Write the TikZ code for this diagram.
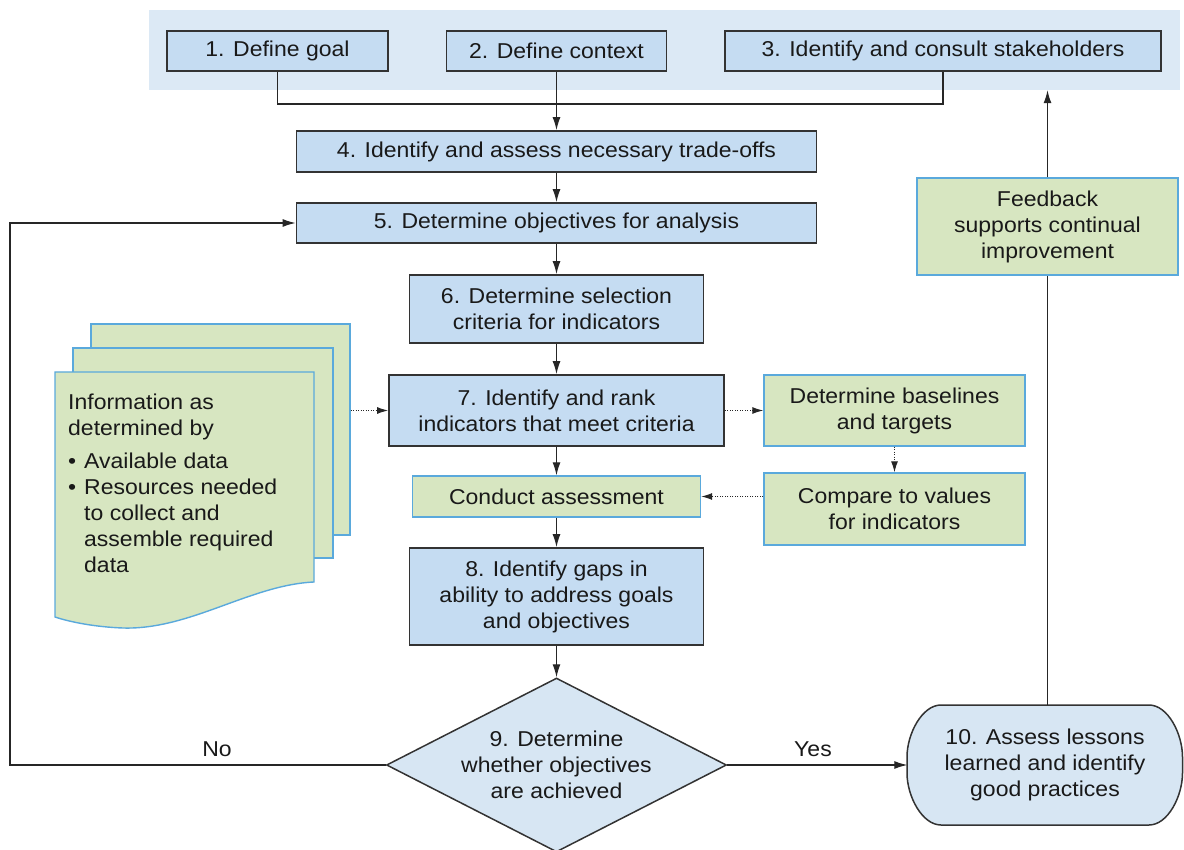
\documentclass[tikz,border=0pt]{standalone}
\usepackage{fontspec}
\setmainfont{Liberation Sans}[FakeStretch=1.07]
\usetikzlibrary{arrows.meta,shapes.geometric,backgrounds}
\definecolor{bluefill}{HTML}{C5DCF2}
\definecolor{greenfill}{HTML}{D7E6C1}
\definecolor{bandfill}{HTML}{DCE9F5}
\definecolor{lightblue}{HTML}{D7E6F3}
\definecolor{greenedge}{HTML}{5AA9DC}
\definecolor{boxedge}{HTML}{333333}
\begin{document}
\begin{tikzpicture}[x=1pt,y=-1pt,
  every node/.style={font=\fontsize{21.5}{26}\selectfont, inner sep=0pt, align=center, text=black!90},
  bluebox/.style={draw=boxedge, line width=1.8pt, fill=bluefill},
  greenbox/.style={draw=greenedge, line width=1.4pt, fill=greenfill},
  sheet/.style={draw=greenedge, line width=1.4pt, fill=greenfill},
  conn/.style={line width=1.2pt, draw=black!85},
  arr/.style={conn, -{Latex[length=13pt,width=8pt]}},
  dotarr/.style={conn, line width=1pt, dash pattern=on 1pt off 1.5pt, -{Latex[length=11pt,width=7pt]}}]
\useasboundingbox (0,0) rectangle (1184,850);
\clip (0,0) rectangle (1184,850);

% top band
\node[fill=bandfill, minimum width=1031pt, minimum height=80pt] (band) at (664.5,50) {};
\node[bluebox, minimum width=221pt, minimum height=40pt] (b1) at (277.5,51) {1. Define goal};
\node[bluebox, minimum width=220pt, minimum height=40pt] (b2) at (556.5,51) {2. Define context};
\node[bluebox, minimum width=436pt, minimum height=40pt] (b3) at (943,51) {3. Identify and consult stakeholders};

% main column
\node[bluebox, minimum width=520pt, minimum height=41pt] (b4) at (556.5,151.5) {4. Identify and assess necessary trade-offs};
\node[bluebox, minimum width=520pt, minimum height=40pt] (b5) at (556.5,223) {5. Determine objectives for analysis};
\node[bluebox, minimum width=294pt, minimum height=68pt] (b6) at (556.5,309) {6. Determine selection\\criteria for indicators};
\node[bluebox, minimum width=335pt, minimum height=71pt] (b7) at (556.5,410.5) {7. Identify and rank\\indicators that meet criteria};
\node[greenbox, minimum width=288pt, minimum height=41pt] (ca) at (556.5,496.5) {Conduct assessment};
\node[bluebox, minimum width=294pt, minimum height=97pt] (b8) at (556.5,596.5) {8. Identify gaps in\\ability to address goals\\and objectives};
\node[diamond, draw=boxedge, line width=1.5pt, fill=lightblue, minimum width=340pt, minimum height=174pt] (d9) at (556.5,765) {};
\node (d9t) at (556.5,765) {9. Determine\\whether objectives\\are achieved};

% right side
\node[greenbox, minimum width=261pt, minimum height=71pt] (bl) at (894.5,410.5) {Determine baselines\\and targets};
\node[greenbox, minimum width=261pt, minimum height=72pt] (cmp) at (894.5,509) {Compare to values\\for indicators};
\node[greenbox, minimum width=261pt, minimum height=97pt] (fb) at (1047.5,226.5) {Feedback\\supports continual\\improvement};
\node[minimum width=275pt, minimum height=120pt] (n10) at (1045,765) {10. Assess lessons\\learned and identify\\good practices};
\begin{pgfonlayer}{background}
\draw[draw=boxedge, line width=1.5pt, fill=lightblue]
  (941,705) .. controls (922.2,705) and (907,733.7) .. (907,757) -- (907,773)
  .. controls (907,796.3) and (922.2,825) .. (941,825) -- (1149,825)
  .. controls (1167.8,825) and (1182.5,796.3) .. (1182.5,773) -- (1182.5,757)
  .. controls (1182.5,733.7) and (1167.8,705) .. (1149,705) -- cycle;
\end{pgfonlayer}

% document stack
\node[sheet, minimum width=259pt, minimum height=211pt] (s1) at (220.5,429.5) {};
\node[sheet, minimum width=260pt, minimum height=210pt] (s2) at (203,453) {};
\draw[sheet] (55,372) -- (314,372) -- (314,582)
  .. controls (250,585) and (190,630) .. (123,628)
  .. controls (95,627) and (70,622) .. (55,617) -- cycle;
\node[anchor=north west, align=left] (doc) at (68,394) {Information as\\determined by\\[7pt]
\makebox[16pt][l]{\textbullet}Available data\\
\makebox[16pt][l]{\textbullet}Resources needed\\
\hspace*{16pt}to collect and\\
\hspace*{16pt}assemble required\\
\hspace*{16pt}data};

% connectors
\coordinate (j1) at (556.5,104);
\draw[conn] (b1.south) |- (j1) -| (b3.south);
\draw[arr] (b2.south) -- (b4.north);
\draw[arr] (b4.south) -- (b5.north);
\draw[arr] (b5.south) -- (b6.north);
\draw[arr] (b6.south) -- (b7.north);
\draw[arr] (b7.south) -- (ca.north);
\draw[arr] (ca.south) -- (b8.north);
\draw[arr] (b8.south) -- (d9.north);
\coordinate (lc) at (10,765);
\draw[arr] (d9.west) -- (lc) |- (b5.west);
\node[anchor=base] (no) at (217,756) {No};
\draw[arr] (d9.east) -- (n10.west);
\node[anchor=base] (yes) at (813,756) {Yes};
\draw[conn] (fb.south |- n10.north) -- (fb.south);
\draw[arr] (fb.north) -- (fb.north |- band.south);
\draw[dotarr] (s1.east |- b7.west) -- (b7.west);
\draw[dotarr] (b7.east) -- (bl.west);
\draw[dotarr] (bl.south) -- (cmp.north);
\draw[dotarr] (cmp.west |- ca.east) -- (ca.east);
\end{tikzpicture}
\end{document}
